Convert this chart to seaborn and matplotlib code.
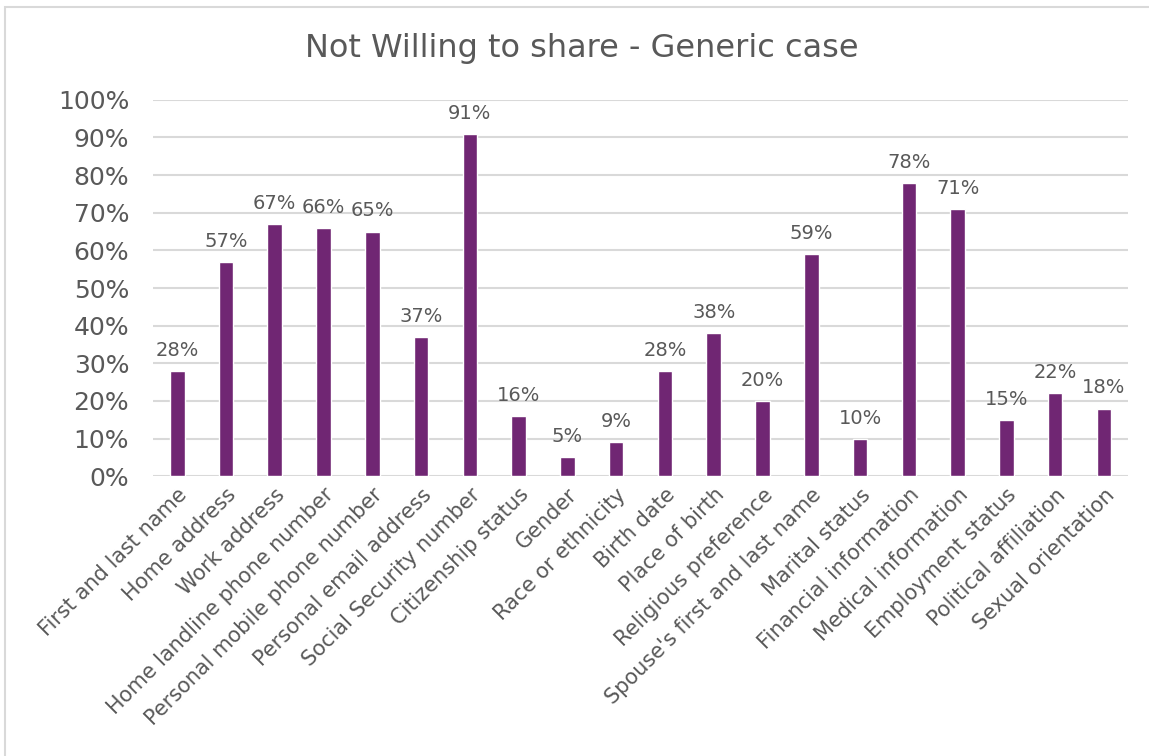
import matplotlib
matplotlib.use("Agg")
import matplotlib.pyplot as plt
import seaborn as sns
import pandas as pd
from matplotlib.ticker import PercentFormatter
from matplotlib.patches import Rectangle

categories = [
    "First and last name", "Home address", "Work address",
    "Home landline phone number", "Personal mobile phone number",
    "Personal email address", "Social Security number", "Citizenship status",
    "Gender", "Race or ethnicity", "Birth date", "Place of birth",
    "Religious preference", "Spouse's first and last name", "Marital status",
    "Financial information", "Medical information", "Employment status",
    "Political affiliation", "Sexual orientation",
]
values = [28, 57, 67, 66, 65, 37, 91, 16, 5, 9, 28, 38, 20, 59, 10, 78, 71, 15, 22, 18]
title = "Not Willing to share - Generic case"

df = pd.DataFrame({"item": categories, "share": [v / 100 for v in values]})

sns.set_theme(style="white")
plt.rcParams["font.family"] = ["DejaVu Sans"]
text_color = "#595959"
bar_color = "#702673"

fig = plt.figure(figsize=(11.49, 7.56), dpi=100)
ax = fig.add_axes([0.133, 0.370, 0.849, 0.498])

sns.barplot(data=df, x="item", y="share", color=bar_color, width=0.3,
            saturation=1, ax=ax, zorder=3)

ax.set_ylim(0, 1)
ax.set_yticks([i / 10 for i in range(11)])
ax.yaxis.set_major_formatter(PercentFormatter(1.0, decimals=0))
ax.grid(axis="y", color="#d9d9d9", linewidth=1.5, zorder=0)
ax.set_xlim(-0.5, len(categories) - 0.5)
for s in ax.spines.values():
    s.set_visible(False)
ax.set_xlabel("")
ax.set_ylabel("")
ax.tick_params(axis="y", labelsize=18, colors=text_color, length=0, pad=17)
ax.tick_params(axis="x", labelsize=15, colors=text_color, length=0, pad=6)
plt.setp(ax.get_xticklabels(), rotation=45, ha="right", rotation_mode="anchor")

for c in ax.containers:
    ax.bar_label(c, labels=[f"{v}%" for v in values], padding=8,
                 fontsize=14, color=text_color)

fig.text(0.5065, 0.936, title, ha="center", va="center", fontsize=23, color=text_color)

# chart frame: only the top and left edges fall inside the image
fig.patches.append(Rectangle((5 / 1149, -0.05), 1.2, 1 - 7 / 756 + 0.05,
                             transform=fig.transFigure, fill=False,
                             edgecolor="#d9d9d9", linewidth=1.5))

fig.savefig("out.png", dpi=100, facecolor="white")
